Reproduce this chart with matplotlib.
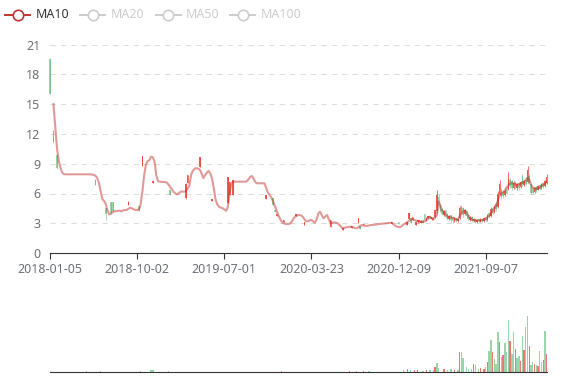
import numpy as np
import matplotlib
matplotlib.use("Agg")
import matplotlib.pyplot as plt
from matplotlib.lines import Line2D

# ---------------- data ----------------
n_categories = 286
tick_positions = [0, 50, 100, 150, 200, 250]
tick_labels = ["2018-01-05", "2018-10-02", "2019-07-01", "2020-03-23", "2020-12-09", "2021-09-07"]

ma10 = [None, None, 15.0, 12.8, 10.6, 9.3, 8.6, 8.1, 7.95,
        7.93, 7.93, 7.93, 7.93, 7.93, 7.93, 7.93, 7.93, 7.93, 7.93, 7.93, 7.93, 7.93, 7.93, 7.93,
        7.9, 7.88, 7.8, 7.6, 7.1, 6.3, 5.45, 5.25, 4.95, 4.3, 3.9, 3.95, 4.15, 4.2, 4.22, 4.25,
        4.27, 4.2, 4.3, 4.35, 4.34, 4.45, 4.57, 4.5, 4.41, 4.35, 4.34, 4.35, 4.9, 6.2, 7.8, 8.9,
        9.25, 9.35, 9.7, 9.65, 9.2, 7.8, 7.25, 7.19, 7.17, 7.15, 7.15, 7.1, 6.9, 6.65, 6.4, 6.15,
        6.0, 5.92, 6.05, 6.18, 6.2, 6.18, 6.25, 6.5, 6.8, 7.9, 8.3, 8.5, 8.55, 8.5, 8.4, 8.0, 7.55,
        7.85, 8.1, 8.27, 8.0, 7.5, 6.5, 5.4, 4.9, 4.65, 4.58, 4.52, 4.4, 4.27, 4.6, 6.0, 7.0, 7.19,
        7.19, 7.19, 7.19, 7.19, 7.19, 7.19, 7.19, 7.25, 7.45, 7.7, 7.75, 7.4, 7.1, 7.03,
        7.03, 7.03, 7.03, 7.03, 6.6, 6.1, 5.85, 5.6, 5.2, 4.75, 4.3, 3.84, 3.45, 3.15, 3.0, 2.95,
        2.93, 2.93, 3.0, 3.25, 3.55, 3.7, 3.8, 3.84, 3.8, 3.66, 3.4, 3.2, 3.2, 3.3, 3.33, 3.2, 3.06,
        3.4, 4.0, 4.17, 3.8, 3.5, 3.7, 3.84, 3.4, 3.0, 3.05, 3.1, 3.05, 3.0, 2.85, 2.65, 2.5, 2.55,
        2.6, 2.62, 2.65, 2.66, 2.6, 2.52, 2.5, 2.6, 2.75, 2.82, 2.78, 2.74, 2.74, 2.78, 2.82, 2.83,
        2.85, 2.88, 2.9, 2.93, 2.95, 2.97, 3.0, 3.0, 3.02, 3.05, 3.06, 2.95, 2.75, 2.66, 2.62, 2.62,
        2.75, 2.9, 3.0, 3.1, 3.25, 3.38, 3.4, 3.33, 3.26, 3.22, 3.18, 3.16, 3.12, 3.2, 3.33, 3.6,
        3.66, 3.5, 3.4, 3.6, 3.84, 5.2, 4.8, 4.3, 4.15, 3.9, 3.7, 3.65, 3.6, 3.55, 3.5, 3.42, 3.35,
        3.7, 4.0, 4.2, 4.3, 4.1, 3.8, 3.55, 3.4, 3.33, 3.3, 3.3, 3.28, 3.26, 3.3, 3.33, 3.4, 3.6,
        3.75, 3.95, 4.25, 4.5, 4.8, 5.3, 5.8, 6.0, 6.15, 6.3, 6.6, 6.85, 7.0, 7.03, 7.0, 6.95, 6.88,
        6.9, 7.0, 7.1, 7.2, 7.35, 7.6, 7.4, 6.9, 6.6, 6.52, 6.5, 6.52, 6.6, 6.75, 6.86, 7.0, 7.19]

# candles (only days with a visible range): index, open, close, low, high
candle_idx = [0, 2, 4, 26, 32, 35, 36, 45, 51, 53, 59, 69, 78, 79, 86, 93, 102, 103, 105,
              124, 128, 129, 130, 134, 141, 146, 161, 168, 173, 177, 178, 180, 196, 200,
              205, 206, 207, 208, 210,
              211, 212, 213, 214, 215, 216, 217, 218, 219, 220, 221, 222, 223, 224, 225, 226,
              227, 228, 229, 230, 231, 232, 233, 234, 235, 236, 237, 238, 239, 240, 241, 242,
              243, 244, 245, 246, 247, 248, 249, 250, 251, 252, 253, 254, 255, 256, 257, 258,
              259, 260, 261, 262, 263, 264, 265, 266, 267, 268, 269, 270, 271, 272, 273, 274,
              275, 276, 277, 278, 279, 280, 281, 282, 283, 284, 285]
candle_open = [19.5, 12.3, 9.9, 7.4, 4.5, 5.1, 5.1, 4.85, 4.75, 8.8, 7.1, 6.35, 5.5, 7.05, 8.7,
               5.2, 5.0, 5.85, 5.85, 5.4, 5.5, 4.35, 3.75, 3.13, 3.75, 2.85, 2.65, 2.3, 2.5, 3.0,
               2.75, 2.8, 2.9, 3.1, 2.85, 3.4, 3.5, 3.3, 2.8,
               3.1, 3.3, 3.05, 3.3, 3.9, 3.3, 3.5, 3.7, 3.4, 3.6, 3.6, 4.2, 5.6, 4.8, 4.4, 3.8,
               4.3, 3.9, 3.4, 3.8, 3.6, 3.2, 3.5, 3.2, 3.5, 4.6, 4.5, 3.9, 4.2, 3.8, 3.3, 3.6,
               3.2, 3.4, 3.1, 3.4, 3.15, 3.45, 3.2, 3.6, 3.3, 4.0, 3.7, 4.5, 4.1, 4.9, 4.6, 5.9,
               6.4, 6.2, 5.8, 6.6, 6.5, 7.4, 7.3, 6.6, 7.2, 6.6, 7.1, 6.7, 7.8, 6.9, 7.4, 7.2,
               7.8, 7.0, 6.6, 6.2, 6.7, 6.4, 6.9, 6.6, 7.1, 6.8, 7.1]
candle_close = [16.0, 11.2, 8.6, 6.9, 3.9, 4.0, 4.2, 5.15, 4.3, 9.8, 7.3, 5.85, 7.0, 7.85, 9.7,
                5.4, 7.7, 7.2, 7.35, 5.85, 4.85, 4.15, 3.95, 3.33, 3.95, 3.15, 3.35, 2.5, 2.7, 3.5,
                2.45, 2.9, 3.15, 2.9, 3.15, 4.0, 3.0, 3.6, 3.1,
                3.3, 3.1, 3.25, 3.05, 3.35, 3.5, 3.7, 3.45, 3.6, 3.35, 4.3, 5.8, 4.8, 4.2, 3.9, 4.2,
                3.6, 3.4, 3.7, 3.3, 3.2, 3.5, 3.2, 3.4, 4.5, 4.0, 3.8, 4.3, 3.7, 3.4, 3.6, 3.25,
                3.45, 3.15, 3.35, 3.2, 3.4, 3.2, 3.5, 3.3, 3.8, 3.6, 4.4, 4.0, 4.6, 4.4, 6.0, 7.0,
                5.6, 5.7, 6.3, 6.0, 7.6, 6.8, 6.6, 7.1, 6.7, 7.0, 6.6, 7.2, 7.0, 7.3, 7.0, 8.4,
                7.1, 6.1, 6.1, 6.6, 6.3, 6.8, 6.5, 7.0, 6.7, 7.3, 7.7]
candle_low = [16.0, 11.1, 8.5, 6.85, 3.3, 4.0, 4.1, 4.85, 4.27, 8.77, 7.09, 5.85, 5.4, 7.03, 8.7,
              5.2, 5.0, 5.85, 5.85, 5.4, 4.84, 4.15, 3.74, 3.13, 3.74, 2.85, 2.66, 2.3, 2.5, 3.0,
              2.4, 2.8, 2.9, 2.9, 2.85, 3.4, 3.0, 3.3, 2.8,
              3.05, 3.0, 3.0, 3.0, 3.3, 3.25, 3.45, 3.4, 3.35, 3.3, 3.55, 4.0, 4.5, 4.1, 3.8, 3.7,
              3.5, 3.3, 3.3, 3.1, 3.0, 3.1, 3.1, 3.15, 3.4, 3.9, 3.6, 3.8, 3.5, 3.3, 3.2, 3.1,
              3.1, 3.05, 3.0, 3.1, 3.1, 3.1, 3.15, 3.2, 3.25, 3.5, 3.6, 3.9, 4.0, 4.2, 4.5, 5.8,
              5.4, 5.5, 5.7, 5.9, 6.4, 6.6, 6.4, 6.5, 6.5, 6.4, 6.4, 6.6, 6.8, 6.8, 6.9, 7.1,
              7.0, 5.9, 5.9, 6.1, 6.2, 6.35, 6.4, 6.5, 6.6, 6.7, 7.0]
candle_high = [19.6, 12.4, 9.9, 7.45, 4.5, 5.1, 5.1, 5.2, 4.75, 9.8, 7.3, 6.35, 7.05, 7.86, 9.7,
               5.4, 7.7, 7.2, 7.36, 5.85, 5.52, 4.35, 3.95, 3.33, 3.95, 3.15, 3.35, 2.5, 2.7, 3.5,
               2.75, 2.9, 3.15, 3.1, 3.15, 4.0, 3.5, 3.6, 3.1,
               3.35, 3.35, 3.3, 3.35, 3.95, 3.6, 3.75, 3.75, 3.65, 3.65, 4.35, 6.4, 5.9, 4.9, 4.5, 4.3,
               4.35, 4.0, 3.8, 3.85, 3.7, 3.6, 3.55, 3.5, 4.7, 4.8, 4.6, 4.4, 4.3, 3.9, 3.7, 3.7,
               3.5, 3.5, 3.45, 3.45, 3.5, 3.5, 3.6, 3.7, 3.9, 4.1, 4.6, 4.7, 4.8, 5.1, 6.3, 7.4,
               6.6, 6.4, 6.5, 6.8, 8.2, 7.6, 7.4, 7.3, 7.3, 7.1, 7.2, 7.3, 8.0, 7.4, 7.6, 8.8,
               8.0, 7.1, 6.7, 6.7, 6.8, 6.9, 7.0, 7.1, 7.2, 7.4, 8.0]

# volume (only days with a visible bar): index, value, rising day
volume_idx = [21, 29, 52, 58, 59, 68, 133, 172, 176, 180, 183, 203, 205, 207, 209, 211,
              214, 216, 218, 220, 221, 222, 223, 226, 228, 230, 232, 234, 235, 236, 237, 239,
              240, 242, 243, 244, 246, 247, 249, 250, 251, 252, 253, 254, 255, 256, 257, 258,
              259, 260, 261, 262, 263, 264, 265, 266, 267, 268, 269, 270, 271, 272, 273, 274,
              275, 276, 277, 278, 279, 280, 281, 282, 283, 284, 285]
volume_val = [3, 2, 3, 6, 5, 4, 2, 3, 4, 3, 4, 5, 8, 6, 5, 5,
              4, 6, 5, 6, 15, 27, 12, 8, 6, 9, 5, 7, 60, 62, 42, 14,
              10, 8, 25, 20, 9, 12, 10, 14, 30, 65, 99, 60, 40, 25, 122, 92,
              45, 52, 89, 60, 159, 94, 55, 122, 70, 42, 50, 35, 112, 69, 137, 172,
              79, 22, 30, 25, 20, 18, 64, 30, 37, 127, 55]
volume_up = [0, 0, 0, 0, 0, 0, 1, 1, 0, 1, 0, 0, 1, 0, 1, 1,
             0, 1, 0, 0, 1, 0, 0, 1, 0, 0, 1, 0, 1, 0, 0, 0,
             0, 0, 1, 0, 0, 1, 1, 0, 1, 0, 0, 1, 0, 0, 0, 1,
             0, 1, 0, 0, 0, 1, 0, 0, 1, 0, 0, 1, 0, 1, 0, 0,
             1, 0, 0, 1, 0, 1, 0, 0, 1, 0, 1]

# ---------------- style ----------------
UP = "#ec4a3f"
DOWN = "#47b262"
MA_COLOR = "#c23531"
AXIS = "#333333"
LABEL = "#6e7079"
GRID = "#dcdcdc"
plt.rcParams['font.family'] = ['Noto Sans', 'DejaVu Sans']

W, H = 577, 380
fig = plt.figure(figsize=(W / 100, H / 100), dpi=100)

x0, x1 = 50, 546.7
ax = fig.add_axes([x0 / W, 1 - 253.1 / H, (x1 - x0) / W, (253.1 - 44.5) / H])
axv = fig.add_axes([x0 / W, 1 - 372 / H, (x1 - x0) / W, 72 / H])

xmax = n_categories - 1
for a in (ax, axv):
    a.set_xlim(0, xmax)
    for s in ("top", "right", "left"):
        a.spines[s].set_visible(False)
    a.spines["bottom"].set_color(AXIS)
    a.spines["bottom"].set_linewidth(0.8)
    a.set_facecolor("none")

# grid
ax.set_ylim(0, 21)
yt = list(range(0, 22, 3))
ax.set_yticks(yt)
ax.set_yticklabels([str(v) for v in yt], color=LABEL, fontsize=9)
ax.tick_params(axis="y", length=0, pad=7)
for v in yt[1:]:
    ax.axhline(v, color=GRID, lw=0.75, ls=(0, (5, 5)), zorder=0)

ax.set_xticks(tick_positions)
ax.set_xticklabels(tick_labels, color=LABEL, fontsize=9)
ax.tick_params(axis="x", length=4, width=0.8, color=AXIS, pad=3)

# candles
ci = np.array(candle_idx, dtype=float)
co = np.array(candle_open)
cc = np.array(candle_close)
cl = np.array(candle_low)
ch = np.array(candle_high)
up = cc >= co
cols = np.where(up, UP, DOWN)
alphas = np.where(up, 0.9, 0.55)
for i in range(len(ci)):
    ax.vlines(ci[i], cl[i], ch[i], color=cols[i], lw=0.6, alpha=alphas[i], zorder=3, clip_on=False)
    lo = min(co[i], cc[i])
    ax.bar(ci[i], abs(cc[i] - co[i]), bottom=lo, width=0.9, color=cols[i], alpha=alphas[i],
           linewidth=0, zorder=3, clip_on=False)

# MA10 line
ma = np.array(ma10, dtype=float)
ax.plot(np.arange(n_categories), ma, color=MA_COLOR, alpha=0.5, lw=1.5, zorder=4,
        solid_joinstyle="round")

# volume
vi = np.array(volume_idx, dtype=float)
vv = np.array(volume_val, dtype=float)
vu = np.array(volume_up, dtype=bool)
axv.bar(vi[vu], vv[vu], width=0.8, color=UP, alpha=0.75, linewidth=0)
axv.bar(vi[~vu], vv[~vu], width=0.8, color=DOWN, alpha=0.55, linewidth=0)
axv.set_ylim(0, 172 * 72 / 56)
axv.set_yticks([])
axv.set_xticks([])

# legend
names = ["MA10", "MA20", "MA50", "MA100"]
icon_x = [5, 80, 155.7, 230]
for k, (nm, ix) in enumerate(zip(names, icon_x)):
    c = MA_COLOR if k == 0 else "#cccccc"
    tc = "#333333" if k == 0 else "#cccccc"
    yf = 1 - 15 / H
    fig.add_artist(Line2D([ix / W, (ix + 25) / W], [yf, yf], color=c, lw=1.4))
    fig.add_artist(Line2D([(ix + 12.5) / W], [yf], marker="o", markersize=7.5,
                          markerfacecolor="white", markeredgecolor=c, markeredgewidth=1.2, lw=0))
    fig.text((ix + 30.5) / W, yf, nm, color=tc, fontsize=9, va="center", ha="left")

fig.savefig("out.png", dpi=100)
